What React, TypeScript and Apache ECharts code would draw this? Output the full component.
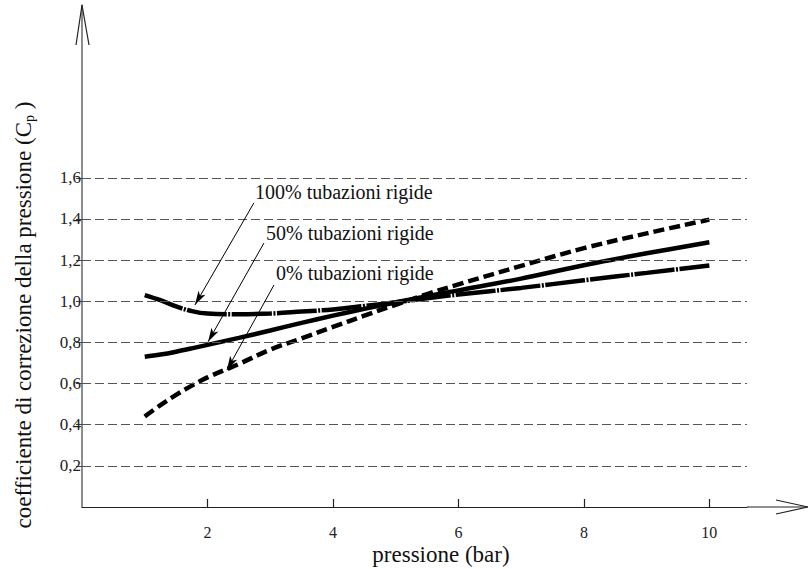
import React, { useEffect, useRef } from 'react';
import * as echarts from 'echarts';

// pressure (bar)
const pressures = [1, 1.25, 1.5, 1.75, 2, 2.5, 3, 3.5, 4, 4.5, 5, 5.5, 6, 7, 8, 9, 10];
// correction coefficient Cp
const cp100 = [1.03, 1.005, 0.975, 0.952, 0.94, 0.937, 0.94, 0.95, 0.96, 0.977, 0.995, 1.015, 1.033, 1.065, 1.102, 1.138, 1.174];
const cp50 = [0.73, 0.741, 0.755, 0.771, 0.788, 0.822, 0.858, 0.895, 0.93, 0.963, 0.994, 1.025, 1.053, 1.11, 1.175, 1.233, 1.287];
const cp0 = [0.44, 0.495, 0.545, 0.59, 0.63, 0.695, 0.765, 0.82, 0.875, 0.93, 0.983, 1.035, 1.082, 1.172, 1.258, 1.33, 1.397];

const xTicks = [2, 4, 6, 8, 10];
const yTicks = [0.2, 0.4, 0.6, 0.8, 1.0, 1.2, 1.4, 1.6];

const seriesNames = ['100% tubazioni rigide', '50% tubazioni rigide', '0% tubazioni rigide'];
const xTitle = 'pressione (bar)';
const yTitle = 'coefficiente di correzione della pressione (C{sub|p} )';

// annotation arrows, [from, to] in data units
const arrows100 = [[2.74, 1.478], [1.80, 0.982]];
const arrows50 = [[2.9, 1.283], [2.01, 0.803]];
const arrows0 = [[3.06, 1.079], [2.31, 0.666]];

const FONT = 'Liberation Serif';

function zip(xs: number[], ys: number[]) {
  return xs.map((x, i) => [x, ys[i]]);
}

function arrowMark(a: number[][]) {
  return {
    silent: true,
    symbol: ['none', 'arrow'],
    symbolSize: [6, 14],
    label: { show: false },
    lineStyle: { color: '#000', width: 1, type: 'solid' },
    emphasis: { disabled: true },
    data: [[{ coord: a[0] }, { coord: a[1] }]],
  };
}

function txt(x: number, y: number, text: string, size: number, extra: any = {}) {
  return {
    type: 'text',
    z: 10,
    x,
    y,
    ...extra,
    style: {
      text,
      fontFamily: FONT,
      fontSize: size,
      fill: '#111',
      textVerticalAlign: 'middle',
      ...(extra.style || {}),
    },
  };
}

export default function App() {
  const ref = useRef<HTMLDivElement>(null);
  useEffect(() => {
    if (!ref.current) return;
    const chart = echarts.init(ref.current, undefined, { renderer: 'svg' });
    const left = 82;
    const right = 747;
    const top = 5;
    const bottom = 507;
    chart.setOption({
      animation: false,
      backgroundColor: '#fff',
      textStyle: { fontFamily: FONT },
      grid: { left, top, right: 808 - right, bottom: 569 - bottom, containLabel: false },
      xAxis: {
        type: 'value',
        min: 0,
        max: 10.6,
        axisLine: { show: true, lineStyle: { color: '#222', width: 1.2 } },
        axisTick: { show: true, inside: true, length: 8, customValues: xTicks, lineStyle: { color: '#222', width: 1.2 } },
        axisLabel: {
          customValues: xTicks,
          margin: 17,
          color: '#222',
          fontFamily: FONT,
          fontSize: 16,
        },
        splitLine: { show: false },
      },
      yAxis: {
        type: 'value',
        min: 0,
        max: 2.44,
        axisLine: { show: true, lineStyle: { color: '#666', width: 1.5 } },
        axisTick: { show: true, inside: false, length: 6, customValues: yTicks, lineStyle: { color: '#444', width: 1 } },
        axisLabel: {
          customValues: yTicks,
          margin: 1,
          color: '#222',
          fontFamily: FONT,
          fontSize: 17,
          formatter: (v: number) => v.toFixed(1).replace('.', ','),
        },
        splitLine: { show: false },
      },
      series: [
        {
          type: 'line',
          name: 'grid',
          data: [],
          z: 1,
          silent: true,
          markLine: {
            silent: true,
            symbol: ['none', 'none'],
            label: { show: false },
            lineStyle: { color: '#555', width: 1, type: [9, 4] },
            emphasis: { disabled: true },
            data: yTicks.map((v) => ({ yAxis: v })),
          },
        },
        {
          type: 'line',
          name: seriesNames[0],
          data: zip(pressures, cp100),
          smooth: 0.35,
          showSymbol: false,
          z: 3,
          lineStyle: { color: '#000', width: 4.5, type: [40, 1.5, 2, 1.5], cap: 'butt' },
          markLine: arrowMark(arrows100),
        },
        {
          type: 'line',
          name: seriesNames[1],
          data: zip(pressures, cp50),
          smooth: 0.35,
          showSymbol: false,
          z: 3,
          lineStyle: { color: '#000', width: 4.5, type: 'solid' },
          markLine: arrowMark(arrows50),
        },
        {
          type: 'line',
          name: seriesNames[2],
          data: zip(pressures, cp0),
          smooth: 0.35,
          showSymbol: false,
          z: 3,
          lineStyle: { color: '#000', width: 4.5, type: [11, 5], cap: 'butt' },
          markLine: arrowMark(arrows0),
        },
      ],
      graphic: [
        // x axis extension with open arrow
        { type: 'line', z: 10, shape: { x1: right, y1: bottom, x2: 808, y2: bottom }, style: { stroke: '#222', lineWidth: 1.2 } },
        { type: 'polyline', z: 10, shape: { points: [[776, 500], [808, 507], [776, 514]] }, style: { stroke: '#222', lineWidth: 1.2, fill: null } },
        // y axis open arrow
        { type: 'polyline', z: 10, shape: { points: [[76, 45], [82, 5], [89, 45]] }, style: { stroke: '#222', lineWidth: 1.2, fill: null } },
        // annotation texts
        txt(255, 192, seriesNames[0], 20),
        txt(266, 233, seriesNames[1], 20),
        txt(276, 273, seriesNames[2], 20),
        // axis titles
        txt(441, 554, xTitle, 23, { style: { textAlign: 'center' } }),
        txt(23, 315, yTitle, 23, {
          rotation: Math.PI / 2,
          style: {
            textAlign: 'center',
            rich: {
              sub: { fontSize: 14, fontFamily: FONT, fill: '#111', padding: [13, 0, 0, 0] },
            },
          },
        }),
      ],
    });
    return () => chart.dispose();
  }, []);
  return <div ref={ref} style={{ width: 808, height: 569, position: 'absolute', left: 0, top: 0 }} />;
}
